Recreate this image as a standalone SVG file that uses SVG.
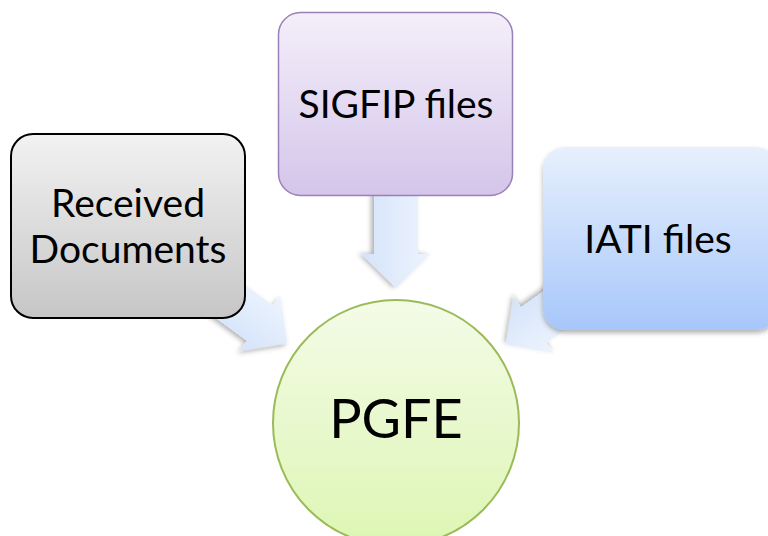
<svg xmlns="http://www.w3.org/2000/svg" width="768" height="536" viewBox="0 0 768 536">
<defs>
<linearGradient id="gArrow" x1="0" y1="0" x2="0" y2="1">
<stop offset="0" stop-color="#eef4fd"/><stop offset="1" stop-color="#d4e3fa"/>
</linearGradient>
<linearGradient id="gGray" x1="0" y1="0" x2="0" y2="1">
<stop offset="0" stop-color="#f2f2f2"/><stop offset="1" stop-color="#c6c6c6"/>
</linearGradient>
<linearGradient id="gPurple" x1="0" y1="0" x2="0" y2="1">
<stop offset="0" stop-color="#f4effa"/><stop offset="1" stop-color="#d4c5ea"/>
</linearGradient>
<linearGradient id="gBlue" x1="0" y1="0" x2="0" y2="1">
<stop offset="0" stop-color="#e7f0fd"/><stop offset="1" stop-color="#a7c7fa"/>
</linearGradient>
<linearGradient id="gGreen" x1="0" y1="0" x2="0" y2="1">
<stop offset="0" stop-color="#f4fbe8"/><stop offset="1" stop-color="#ddf6b3"/>
</linearGradient>
<filter id="shadow" x="-20%" y="-20%" width="140%" height="140%">
<feDropShadow dx="0" dy="3" stdDeviation="2.5" flood-color="#000" flood-opacity="0.3"/>
</filter>
<path id="arrowShape" d="M0,0 L-34,-34.5 L-34,-22 L-110,-22 L-110,22 L-34,22 L-34,34.5 Z"/>
</defs>
<style>
.lbl{font-family:Lato,"Open Sans","Liberation Sans",sans-serif;fill:#000;text-anchor:middle}
.box{font-size:39px}
.arrow{fill:url(#gArrow);filter:url(#shadow)}
</style>
<g id="connectors">
<g transform="translate(396,423) rotate(36.3) translate(-135,0)"><use href="#arrowShape" class="arrow"/></g>
<g transform="translate(396,423) rotate(90) translate(-135,0)"><use href="#arrowShape" class="arrow"/></g>
<g transform="translate(396,423) rotate(144.6) translate(-135,0)"><use href="#arrowShape" class="arrow"/></g>
</g>
<g id="node-received">
<rect x="11" y="134" width="234" height="184" rx="22" fill="url(#gGray)" stroke="#000" stroke-width="2"/>
<text class="lbl box" x="128" y="217">Received</text>
<text class="lbl box" x="128" y="263">Documents</text>
</g>
<g id="node-sigfip">
<rect x="278.5" y="12.5" width="234" height="183" rx="22" fill="url(#gPurple)" stroke="#9a80b9" stroke-width="1.5"/>
<text class="lbl box" x="396" y="118">SIGFIP files</text>
</g>
<g id="node-iati">
<rect x="543" y="147" width="235" height="183" rx="22" fill="url(#gBlue)" filter="url(#shadow)"/>
<text class="lbl box" x="658" y="253">IATI files</text>
</g>
<g id="node-pgfe">
<circle cx="396" cy="423" r="123" fill="url(#gGreen)" stroke="#9bbb59" stroke-width="2"/>
<text class="lbl" x="396" y="438" font-size="54">PGFE</text>
</g>
</svg>
